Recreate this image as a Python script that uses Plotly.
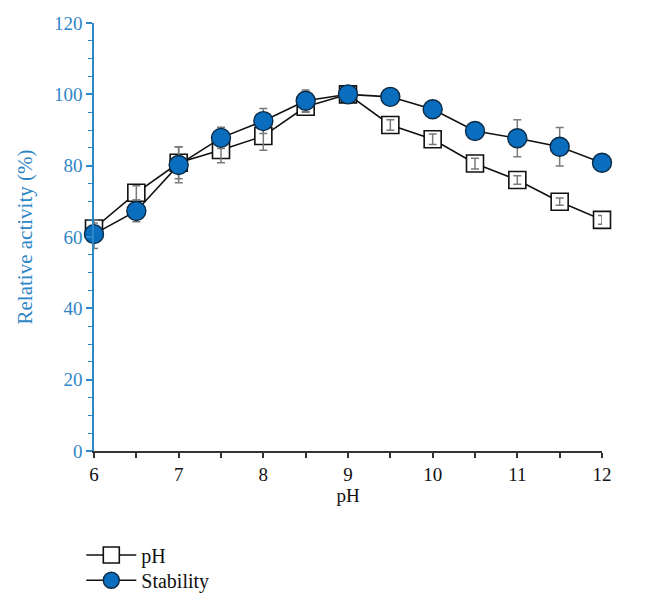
import plotly.graph_objects as go

ph_x = [6, 6.5, 7, 7.5, 8, 8.5, 9, 9.5, 10, 10.5, 11, 11.5, 12]
ph_activity = [62.4, 72.4, 80.8, 84.4, 88.3, 96.5, 100, 91.4, 87.4, 80.6, 76.0, 69.9, 64.8]
ph_err = [1.5, 2.0, 4.5, 3.6, 4.0, 1.5, 1.0, 1.5, 1.5, 1.5, 1.2, 1.0, 1.2]
stab_activity = [60.8, 67.3, 80.2, 87.8, 92.5, 98.2, 100, 99.3, 95.8, 89.7, 87.7, 85.3, 80.8]
stab_err = [4.0, 3.0, 5.0, 3.0, 3.5, 3.0, 1.0, 1.0, 1.0, 1.0, 5.2, 5.4, 1.0]

blue_axis = "#2f86c6"
serif = "Liberation Serif, Times New Roman, serif"
err_color = "#7a7a7a"

fig = go.Figure()
fig.add_trace(go.Scatter(
    x=ph_x, y=ph_activity, name="pH", mode="lines+markers", legend="legend",
    line=dict(color="#111111", width=1.6),
    marker=dict(symbol="square", size=17, color="white",
                line=dict(color="#111111", width=1.6)),
    cliponaxis=False,
))
fig.add_trace(go.Scatter(
    x=ph_x, y=ph_activity, name="pH error", mode="markers", showlegend=False,
    marker=dict(size=2, color="rgba(0,0,0,0)"),
    error_y=dict(type="data", array=ph_err, color=err_color, thickness=1.5, width=4),
    cliponaxis=False, hoverinfo="skip",
))
fig.add_trace(go.Scatter(
    x=ph_x, y=stab_activity, name="Stability", mode="lines+markers", legend="legend2",
    line=dict(color="#111111", width=1.6),
    marker=dict(symbol="circle", size=19, color="#0b6dbd",
                line=dict(color="#0a2a45", width=1.4)),
    error_y=dict(type="data", array=stab_err, color=err_color, thickness=1.5, width=4),
    cliponaxis=False,
))

legend_common = dict(xanchor="left", yanchor="middle",
                     font=dict(family=serif, size=20, color="#111111"),
                     bgcolor="rgba(0,0,0,0)", itemwidth=50)

fig.update_layout(
    width=647, height=607,
    margin=dict(l=86, r=53, t=15, b=164),
    paper_bgcolor="white", plot_bgcolor="white",
    font=dict(family=serif, size=19, color="#111111"),
    showlegend=True,
    legend=dict(x=-0.025, y=-0.243, **legend_common),
    legend2=dict(x=-0.025, y=-0.302, **legend_common),
    xaxis=dict(
        range=[6, 12], tickvals=[6, 7, 8, 9, 10, 11, 12],
        showgrid=False, zeroline=False, automargin=False,
        showline=True, linecolor="#333333", linewidth=1.5,
        ticks="outside", ticklen=5, tickcolor="#333333", tickwidth=1.5,
        minor=dict(ticks="outside", dtick=0.5, ticklen=5, tickcolor="#333333", tickwidth=1.5),
        tickfont=dict(family=serif, size=19, color="#111111"),
        title=dict(text="pH", font=dict(family=serif, size=19, color="#111111"), standoff=0),
    ),
    yaxis=dict(
        range=[0, 120], tickvals=[0, 20, 40, 60, 80, 100, 120],
        showgrid=False, zeroline=False, automargin=False,
        showline=True, linecolor=blue_axis, linewidth=1.5,
        ticks="outside", ticklen=6, tickcolor=blue_axis, tickwidth=1.5,
        minor=dict(ticks="outside", dtick=5, ticklen=4, tickcolor=blue_axis, tickwidth=1.2),
        tickfont=dict(family=serif, size=19, color=blue_axis),
        title=dict(text="Relative activity (%)", font=dict(family=serif, size=21, color=blue_axis), standoff=16),
    ),
)

fig.write_html("out.html")
